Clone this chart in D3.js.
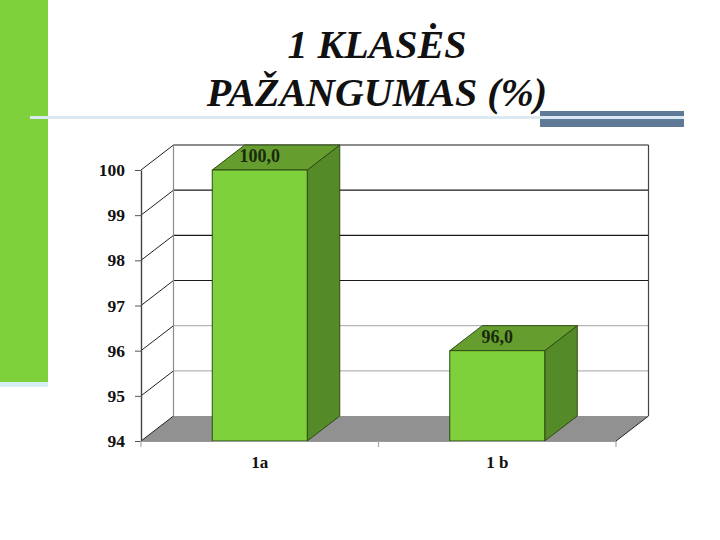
<!DOCTYPE html>
<html><head><meta charset="utf-8">
<style>html,body{margin:0;padding:0;background:#fff}svg{display:block}</style>
<script src="https://cdnjs.cloudflare.com/ajax/libs/d3/7.8.5/d3.min.js"></script></head>
<body><svg id="c" width="720" height="540"></svg>
<script>
const titleLines = ["1 KLASĖS", "PAŽANGUMAS (%)"];
const categories = ["1a", "1 b"];
const values = [100, 96];
const valueLabels = ["100,0", "96,0"];
const yTicks = [94, 95, 96, 97, 98, 99, 100];
const gridDark = [97, 98, 99, 100];

const svg = d3.select("#c");
const serif = "'Liberation Serif','Times New Roman',serif";
const dx = 32.5, dy = -25;
const y = d3.scaleLinear().domain([94, 100]).range([441, 170]);
const x = d3.scaleBand().domain(categories).range([141, 616]).paddingInner(0.6).paddingOuter(0.3);

// Decorations
svg.append("rect").attr("x",0).attr("y",0).attr("width",48).attr("height",382).attr("fill","#7fd13b");
svg.append("rect").attr("x",0).attr("y",382).attr("width",48).attr("height",5).attr("fill","#d8eef6");
svg.append("rect").attr("x",30).attr("y",116).attr("width",510).attr("height",3).attr("fill","#dce9f3");
svg.append("rect").attr("x",540).attr("y",111).attr("width",144).attr("height",16).attr("fill","#5f7a96");
svg.append("rect").attr("x",540).attr("y",116).attr("width",144).attr("height",3).attr("fill","#dce9f3");

// Title
svg.selectAll("text.title").data(titleLines).join("text").attr("class","title")
  .attr("x",377).attr("y",(d,i)=>58+i*48).attr("text-anchor","middle")
  .attr("font-family",serif).attr("font-weight","bold").attr("font-style","italic")
  .attr("font-size",40).attr("fill","#111").text(d=>d);

const x0 = x.range()[0], x1 = x.range()[1];
const poly = (pts,fill,stroke,sw)=>svg.append("polygon")
  .attr("points",pts.map(p=>p.join(",")).join(" "))
  .attr("fill",fill).attr("stroke",stroke||"none").attr("stroke-width",sw||0).attr("stroke-linejoin","round");

// Floor
poly([[x0,y(94)],[x0+dx,y(94)+dy],[x1+dx,y(94)+dy],[x1,y(94)]],"#919191");

// Grid
const gridColor = v => gridDark.includes(v) ? "#1a1a1a" : "#b5b5b5";
svg.selectAll("line.back").data(yTicks.filter(v=>v>94)).join("line").attr("class","back")
  .attr("x1",x0+dx).attr("x2",x1+dx).attr("y1",d=>y(d)+dy).attr("y2",d=>y(d)+dy)
  .attr("stroke",gridColor).attr("stroke-width",1.2);
svg.selectAll("line.side").data(yTicks).join("line").attr("class","side")
  .attr("x1",x0).attr("x2",x0+dx).attr("y1",d=>y(d)).attr("y2",d=>y(d)+dy)
  .attr("stroke","#222").attr("stroke-width",1);
// Walls' edges
svg.append("line").attr("x1",x0+dx).attr("x2",x0+dx).attr("y1",y(100)+dy).attr("y2",y(94)+dy).attr("stroke","#8a8a8a").attr("stroke-width",1.2);
svg.append("line").attr("x1",x1+dx).attr("x2",x1+dx).attr("y1",y(100)+dy).attr("y2",y(94)+dy).attr("stroke","#444").attr("stroke-width",1.2);
svg.append("line").attr("x1",x1).attr("x2",x1+dx).attr("y1",y(94)).attr("y2",y(94)+dy).attr("stroke","#222").attr("stroke-width",1);

// Bars
categories.forEach((c,i)=>{
  const l=x(c), r=l+x.bandwidth(), t=y(values[i]), b=y(94);
  const s="#2f4a14";
  poly([[r,t],[r+dx,t+dy],[r+dx,b+dy],[r,b]],"#548a27",s,1);
  poly([[l,t],[l+dx,t+dy],[r+dx,t+dy],[r,t]],"#659e2e",s,1);
  poly([[l,t],[r,t],[r,b],[l,b]],"#7fd13b",s,1);
  svg.append("text").attr("x",l+x.bandwidth()/2).attr("y",t-8)
    .attr("text-anchor","middle").attr("font-family",serif).attr("font-weight","bold")
    .attr("font-size",18).attr("fill","#1a2a10").text(valueLabels[i]);
});

// Axes
const yAxis = svg.append("g").attr("transform",`translate(${x0},0)`)
  .call(d3.axisLeft(y).tickValues(yTicks).tickSize(6).tickSizeOuter(0).tickPadding(10).tickFormat(d3.format("d")));
yAxis.select(".domain").attr("stroke","#444").attr("stroke-width",1.4);
yAxis.selectAll(".tick line").attr("stroke","#555");
yAxis.selectAll("text").attr("font-family",serif).attr("font-weight","bold").attr("font-size",17.5).attr("fill","#111");

const xAxis = svg.append("g").attr("transform",`translate(0,${y(94)})`)
  .call(d3.axisBottom(x).tickSize(0).tickPadding(15));
xAxis.select(".domain").attr("stroke","#999").attr("stroke-width",1.2);
xAxis.selectAll("text").attr("font-family",serif).attr("font-weight","bold").attr("font-size",17).attr("fill","#111");
const bandTicks = [x0,(x0+x1)/2,x1];
svg.selectAll("line.xt").data(bandTicks).join("line").attr("class","xt")
  .attr("x1",d=>d).attr("x2",d=>d).attr("y1",y(94)).attr("y2",y(94)+6).attr("stroke","#aaa").attr("stroke-width",1.2);
</script></body></html>
